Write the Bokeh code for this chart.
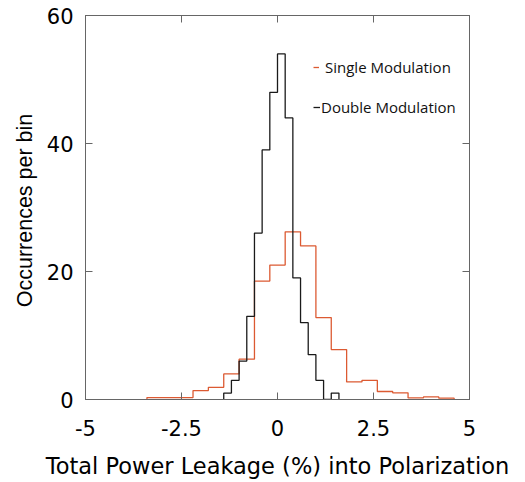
import numpy as np
from bokeh.plotting import figure
from bokeh.models import LinearAxis, FixedTicker, Legend, LegendItem
from bokeh.embed import file_html
from bokeh.resources import INLINE

# ---- data ----
single_left = -3.4
single_width = 0.4
single_counts = [0.3, 0.3, 0.3, 1.4, 1.9, 4.0, 6.3, 18.5, 21.0, 26.2,
                 24.0, 12.8, 7.8, 2.75, 3.0, 1.25, 1.05, 0.25, 0.4, 0.2]

double_left = -1.4
double_width = 0.2
double_counts = [1, 3, 6, 13, 26, 39, 48, 54, 44, 19, 12, 7, 3, 0, 1]

x_ticks = [-5, -2.5, 0, 2.5, 5]
x_tick_labels = ["-5", "-2.5", "0", "2.5", "5"]
y_ticks = [0, 20, 40, 60]
y_tick_labels = ["0", "20", "40", "60"]

series_names = ["Single Modulation", "Double Modulation"]
series_colors = ["#dc5a32", "#1a1a1a"]


def outline(left, width, counts):
    n = len(counts)
    edges = left + width * np.arange(n + 1)
    xs = np.concatenate([[edges[0]], edges])
    ys = np.concatenate([[0.0], np.asarray(counts, dtype=float), [0.0]])
    return xs, ys


p = figure(width=525, height=482, x_range=(-5, 5), y_range=(0, 60),
           output_backend="svg", toolbar_location=None,
           min_border_left=85, min_border_right=56,
           min_border_top=15, min_border_bottom=83)
p.grid.visible = False
p.outline_line_color = "#666666"
p.background_fill_color = "white"
p.border_fill_color = "white"

tick_font = "DejaVu Sans"
axis_gray = "#666666"

# bottom axis
xa = p.xaxis[0]
xa.ticker = FixedTicker(ticks=x_ticks)
xa.major_label_overrides = {float(t): s for t, s in zip(x_ticks, x_tick_labels)}
xa.major_tick_in = 7
xa.major_tick_out = 0
xa.minor_tick_line_color = None
xa.axis_line_color = axis_gray
xa.major_tick_line_color = axis_gray
xa.major_label_text_font = tick_font
xa.major_label_text_font_size = "21px"
xa.major_label_text_color = "black"
xa.major_label_standoff = 20
xa.axis_label = "Total Power Leakage (%) into Polarization"
xa.axis_label_text_font = tick_font
xa.axis_label_text_font_size = "22.5px"
xa.axis_label_text_font_style = "normal"
xa.axis_label_text_color = "black"
xa.axis_label_standoff = 14

# left axis
ya = p.yaxis[0]
ya.ticker = FixedTicker(ticks=y_ticks)
ya.major_label_overrides = {float(t): s for t, s in zip(y_ticks, y_tick_labels)}
ya.major_tick_in = 7
ya.major_tick_out = 0
ya.minor_tick_line_color = None
ya.axis_line_color = axis_gray
ya.major_tick_line_color = axis_gray
ya.major_label_text_font = tick_font
ya.major_label_text_font_size = "21px"
ya.major_label_text_color = "black"
ya.major_label_standoff = 12
ya.axis_label = "Occurrences per  bin"
ya.axis_label_text_font = "Liberation Sans"
ya.axis_label_text_font_size = "21.5px"
ya.axis_label_text_font_style = "normal"
ya.axis_label_text_color = "black"
ya.axis_label_standoff = 7

# mirrored axes (ticks only, no labels)
hidden = dict(major_label_text_font_size="0px", major_label_text_color=None,
              major_label_text_alpha=0, major_tick_in=7, major_tick_out=0,
              minor_tick_line_color=None, major_label_standoff=0,
              axis_line_color=axis_gray, major_tick_line_color=axis_gray)
top = LinearAxis(ticker=FixedTicker(ticks=x_ticks), **hidden)
right = LinearAxis(ticker=FixedTicker(ticks=y_ticks), **hidden)
p.add_layout(top, "above")
p.add_layout(right, "right")

xs1, ys1 = outline(single_left, single_width, single_counts)
xs2, ys2 = outline(double_left, double_width, double_counts)
r1 = p.step(xs1, ys1, mode="after", line_color=series_colors[0], line_width=1.3)
r2 = p.step(xs2, ys2, mode="after", line_color=series_colors[1], line_width=1.3)

common = dict(padding=0, margin=0, spacing=0, border_line_color=None,
              background_fill_alpha=0, glyph_height=20, label_height=20,
              label_text_font="Open Sans", label_text_font_size="15px",
              label_text_color="#111111")
leg1 = Legend(items=[LegendItem(label=series_names[0], renderers=[r1])],
              location=(228, 322), glyph_width=6, label_standoff=6, **common)
leg2 = Legend(items=[LegendItem(label=series_names[1], renderers=[r2])],
              location=(228, 282), glyph_width=7, label_standoff=1, **common)
p.add_layout(leg1)
p.add_layout(leg2)

open("out.html", "w").write(file_html(p, INLINE))
